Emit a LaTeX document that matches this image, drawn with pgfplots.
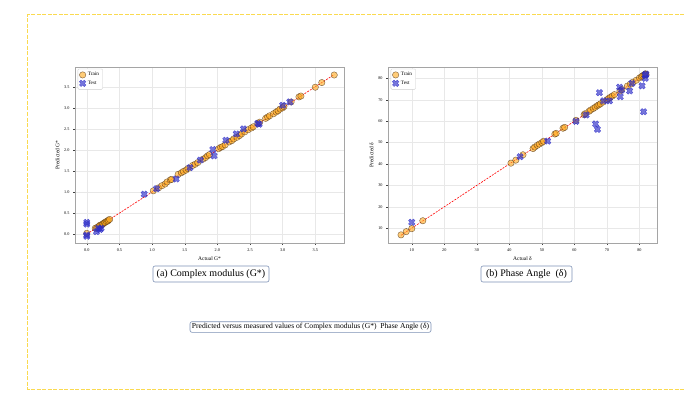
\documentclass[border=0pt]{standalone}
\usepackage{fontspec}
\setmainfont{Liberation Serif}
\usepackage{pgfplots}
\pgfplotsset{compat=1.18}
\definecolor{trainfill}{RGB}{255,170,30}
\definecolor{trainedge}{RGB}{80,50,20}
\definecolor{testc}{RGB}{45,45,200}
\definecolor{gridc}{RGB}{232,232,232}
\definecolor{axc}{RGB}{165,165,165}
\definecolor{capc}{RGB}{125,145,180}
\definecolor{bordc}{RGB}{250,218,80}

\pgfdeclareplotmark{Xfill}{%
  \pgftransformrotate{45}%
  \pgfpathmoveto{\pgfqpoint{-0.36\pgfplotmarksize}{\pgfplotmarksize}}%
  \pgfpathlineto{\pgfqpoint{0.36\pgfplotmarksize}{\pgfplotmarksize}}%
  \pgfpathlineto{\pgfqpoint{0.36\pgfplotmarksize}{0.36\pgfplotmarksize}}%
  \pgfpathlineto{\pgfqpoint{\pgfplotmarksize}{0.36\pgfplotmarksize}}%
  \pgfpathlineto{\pgfqpoint{\pgfplotmarksize}{-0.36\pgfplotmarksize}}%
  \pgfpathlineto{\pgfqpoint{0.36\pgfplotmarksize}{-0.36\pgfplotmarksize}}%
  \pgfpathlineto{\pgfqpoint{0.36\pgfplotmarksize}{-\pgfplotmarksize}}%
  \pgfpathlineto{\pgfqpoint{-0.36\pgfplotmarksize}{-\pgfplotmarksize}}%
  \pgfpathlineto{\pgfqpoint{-0.36\pgfplotmarksize}{-0.36\pgfplotmarksize}}%
  \pgfpathlineto{\pgfqpoint{-\pgfplotmarksize}{-0.36\pgfplotmarksize}}%
  \pgfpathlineto{\pgfqpoint{-\pgfplotmarksize}{0.36\pgfplotmarksize}}%
  \pgfpathlineto{\pgfqpoint{-0.36\pgfplotmarksize}{0.36\pgfplotmarksize}}%
  \pgfpathclose
  \pgfusepathqfillstroke
}

\pgfplotsset{
  myax/.style={
    scale only axis, width=269pt, height=176pt,
    axis line style={axc, line width=0.7pt},
    grid=major, major grid style={gridc, line width=0.3pt},
    tick style={black!75, line width=0.3pt}, tick align=outside, major tick length=2pt,
    tick pos=left,
    tick label style={font=\fontsize{4.2}{4.2}\selectfont},
    /pgf/number format/assume math mode=true,
    label style={font=\fontsize{5.5}{6}\selectfont},
    xlabel style={yshift=2pt},
    ylabel style={yshift=-2pt},
    legend style={at={(0.01,0.99)}, anchor=north west, draw=black!20, rounded corners=1pt,
      font=\fontsize{5.2}{6}\selectfont, inner sep=1.5pt, row sep=-0.5pt},
    legend cell align=left,
  },
  trainst/.style={only marks, mark=*, mark size=3.2pt,
    mark options={fill=trainfill, fill opacity=0.6, draw=trainedge, draw opacity=0.75, line width=0.4pt}},
  testst/.style={only marks, mark=Xfill, mark size=3.4pt,
    mark options={fill=testc, fill opacity=0.65, draw=testc, draw opacity=0.8, line width=0.3pt}},
  diag/.style={red, dash pattern=on 2pt off 1.2pt, line width=0.6pt, forget plot},
}

\begin{document}
\begin{tikzpicture}[x=1pt,y=1pt]
\path[use as bounding box] (0,0) rectangle (684,397);
\draw[draw=bordc, dash pattern=on 4pt off 1.5pt, line width=1.0pt] (684,382) -- (27.5,382) -- (27.5,8) -- (684,8);

% ---------- (a) Complex modulus ----------
\begin{axis}[myax, at={(75pt,154pt)}, anchor=south west,
  xmin=-0.18, xmax=3.94, ymin=-0.21, ymax=3.97,
  xtick={0,0.5,...,3.5}, ytick={0,0.5,...,3.5},
  xticklabel style={/pgf/number format/.cd, fixed, fixed zerofill, precision=1},
  yticklabel style={/pgf/number format/.cd, fixed, fixed zerofill, precision=1},
  xlabel={Actual G*}, ylabel={Predicted G*}]
\addplot[trainst] coordinates {
(0.00,0.02) (0.13,0.14) (0.15,0.15) (0.17,0.17) (0.19,0.19) (0.20,0.21) (0.22,0.22)
(0.24,0.23) (0.25,0.25) (0.27,0.27) (0.28,0.28) (0.30,0.30) (0.32,0.31) (0.33,0.33)
(0.35,0.35) (1.02,1.03) (1.10,1.10) (1.15,1.15) (1.20,1.19) (1.23,1.24) (1.28,1.29)
(1.30,1.30) (1.40,1.42) (1.45,1.46) (1.48,1.49) (1.52,1.52) (1.55,1.56) (1.62,1.63)
(1.66,1.66) (1.70,1.70) (1.78,1.78) (1.82,1.82) (1.85,1.86) (1.88,1.89) (2.02,2.03)
(2.05,2.06) (2.08,2.08) (2.12,2.12) (2.18,2.19) (2.22,2.22) (2.25,2.26) (2.30,2.30)
(2.34,2.34) (2.37,2.38) (2.42,2.43) (2.47,2.48) (2.52,2.52) (2.55,2.55) (2.62,2.63)
(2.65,2.66) (2.74,2.75) (2.77,2.78) (2.80,2.81) (2.86,2.86) (2.90,2.90) (2.93,2.93)
(2.96,2.97) (3.00,3.00) (3.02,3.03) (3.13,3.14) (3.25,3.26) (3.28,3.28) (3.50,3.49)
(3.60,3.60) (3.79,3.78)};
\addlegendentry{Train}
\addplot[testst] coordinates {
(0.00,0.28) (0.00,0.24) (0.00,-0.02) (0.00,-0.05) (0.15,0.06) (0.18,0.14) (0.22,0.14)
(0.20,0.11) (0.88,0.95) (1.07,1.08) (1.37,1.31) (1.58,1.58) (1.74,1.76) (1.93,2.01)
(1.95,1.86) (2.13,2.23) (2.29,2.38) (2.40,2.50) (2.62,2.63) (2.64,2.61) (3.00,3.06)
(3.11,3.14)};
\addlegendentry{Test}
\addplot[diag] coordinates {(0,0) (3.79,3.79)};
\node[font=\fontsize{3.8}{4}\selectfont, anchor=south west, inner sep=0.5pt] at (rel axis cs:0,1) {1e5};
\node[font=\fontsize{3.8}{4}\selectfont, anchor=north east, inner sep=0.5pt, yshift=-9pt] at (rel axis cs:1,0) {1e5};
\end{axis}

% ---------- (b) Phase angle ----------
\begin{axis}[myax, at={(388pt,154pt)}, anchor=south west,
  xmin=2.7, xmax=85.4, ymin=3.1, ymax=85.3,
  xtick={10,20,...,80}, ytick={10,20,...,80},
  xlabel={Actual δ}, ylabel={Predicted δ}]
\addplot[trainst] coordinates {
(6.7,6.9) (8.3,8.4) (10.0,9.8) (13.4,13.5) (40.5,40.4) (42.0,41.8) (44.2,44.3)
(47.3,47.2) (47.8,47.9) (48.6,48.7) (49.2,49.3) (50.0,50.0) (50.5,50.6) (54.0,54.0)
(54.4,54.3) (56.5,56.7) (57.0,57.1) (60.5,60.4) (63.0,63.0) (63.3,63.5) (64.5,64.6)
(65.0,65.2) (65.8,65.9) (66.4,66.5) (67.0,67.2) (67.5,67.6) (68.0,68.1) (68.8,68.9)
(70.0,70.0) (70.5,70.6) (71.0,71.1) (71.6,71.7) (72.3,72.4) (74.0,74.1) (74.6,74.8)
(76.3,76.4) (77.2,77.3) (78.0,78.2) (79.0,79.1) (80.0,80.2) (80.6,80.8) (81.0,81.2)
(81.4,81.6) (81.7,81.9) (81.9,82.1) (82.0,81.8)};
\addlegendentry{Train}
\addplot[testst] coordinates {
(10.0,12.8) (43.3,43.4) (51.8,50.7) (60.5,59.9) (63.6,62.9) (66.5,58.7) (67.1,56.2)
(67.7,73.3) (69.0,69.5) (70.8,69.5) (73.9,75.9) (74.1,71.4) (74.5,74.5) (77.0,74.1)
(77.7,77.7) (80.8,76.5) (81.3,64.4) (81.8,80.0) (81.8,81.5) (82.0,82.0)};
\addlegendentry{Test}
\addplot[diag] coordinates {(6.7,6.7) (82,82)};
\end{axis}

% ---------- captions ----------
\node[draw=capc, rounded corners=2pt, line width=0.6pt, minimum width=116pt, minimum height=16pt,
  inner sep=0pt, font=\fontsize{10}{12}\selectfont] at (211,123) {(a) Complex modulus (G*)};
\node[draw=capc, rounded corners=2pt, line width=0.6pt, minimum width=91pt, minimum height=16pt,
  inner sep=0pt, font=\fontsize{10}{12}\selectfont] at (526.5,123) {(b) Phase Angle\ \ (δ)};
\node[draw=capc, rounded corners=2pt, line width=0.6pt, minimum width=241pt, minimum height=10.6pt,
  inner sep=0pt, font=\fontsize{7.6}{8}\selectfont] at (310.5,70) {Predicted versus measured values of Complex modulus (G*)\ \ Phase Angle (δ)};
\end{tikzpicture}
\end{document}
